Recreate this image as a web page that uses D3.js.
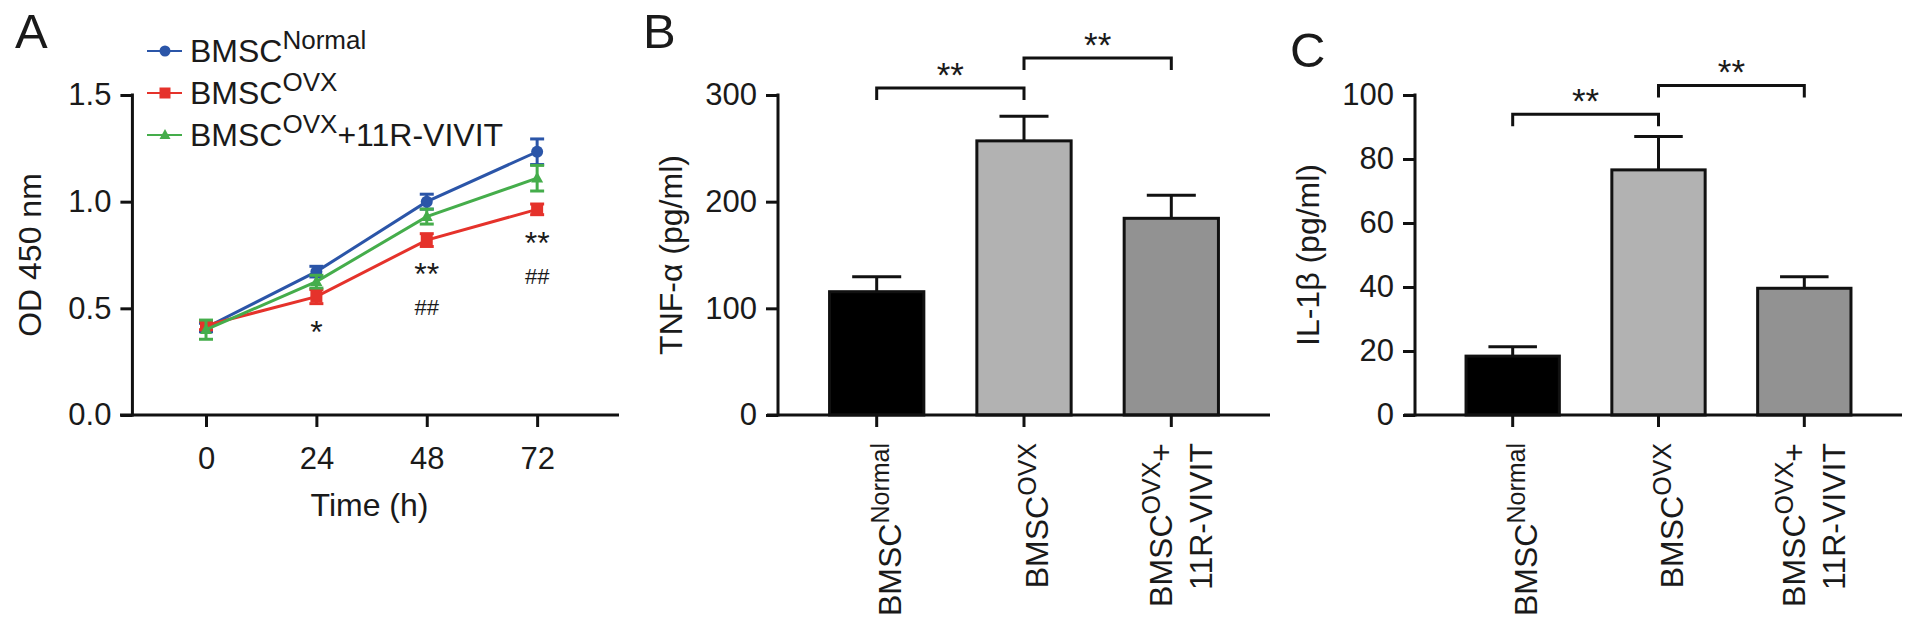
<!DOCTYPE html>
<html>
<head>
<meta charset="utf-8">
<script src="https://cdn.jsdelivr.net/npm/d3@7"></script>
<style>
  html, body { margin: 0; padding: 0; background: #fff; }
  svg { display: block; }
  text { font-family: "Liberation Sans", Arial, Helvetica, sans-serif; fill: #1a1a1a; }
</style>
</head>
<body>
<svg id="fig" width="1913" height="631"></svg>
<script>
// ---------------- DATA ----------------
// Panel A: OD 450 nm over time
const timePoints = [0, 24, 48, 72];
const timeTicks = [0, 24, 48, 72];
const odTicks = [0, 0.5, 1.0, 1.5];
const odNormal = [0.41, 0.672, 1.00, 1.234];
const odNormalErr = [0.02, 0.025, 0.035, 0.06];
const odOVX = [0.42, 0.555, 0.82, 0.964];
const odOVXErr = [0.02, 0.033, 0.03, 0.025];
const odVIVIT = [0.40, 0.625, 0.93, 1.11];
const odVIVITErr = [0.045, 0.03, 0.035, 0.06];
const starMarks = ["", "*", "**", "**"];      // vs Normal
const hashMarks = ["", "", "##", "##"];       // vs OVX+VIVIT

// Panels B, C
const groups = ["Normal", "OVX", "VIVIT"];
const tnfTicks = [0, 100, 200, 300];
const tnfValues = [115.6, 257, 184.4];
const tnfErr = [14, 23, 21.6];
const tnfBrackets = [[0, 1, 306.5, "**"], [1, 2, 334.7, "**"]];
const il1bTicks = [0, 20, 40, 60, 80, 100];
const il1bValues = [18.4, 76.6, 39.6];
const il1bErr = [2.9, 10.4, 3.6];
const il1bBrackets = [[0, 1, 94, "**"], [1, 2, 103, "**"]];

// ---------------- STYLE ----------------
const FONT = 32, TICKFONT = 31, SUP = 25;
const colBlue = "#2b55a8", colRed = "#e5322b", colGreen = "#45ad4b";
const barFills = ["#000000", "#b2b2b2", "#929292"];
const AX = 3;

const svg = d3.select("#fig");

function richText(sel, parts, supSize, shift) {
  let raised = false;
  parts.forEach(p => {
    const ts = sel.append("tspan").text(p.t);
    if (p.sup) {
      ts.attr("font-size", supSize).attr("dy", -shift);
      raised = true;
    } else if (raised) {
      ts.attr("dy", shift);
      raised = false;
    }
  });
}

function styleAxis(g) {
  g.selectAll("path.domain").remove();
  g.selectAll(".tick line").attr("stroke", "#111").attr("stroke-width", AX);
  g.selectAll(".tick text").attr("font-size", TICKFONT).attr("fill", "#1a1a1a")
    .style("font-family", '"Liberation Sans", Arial, Helvetica, sans-serif');
}

// ---------------- PANEL A ----------------
const xA = d3.scaleLinear().domain([-18.7, 89.8]).range([120, 619]);
const yA = d3.scaleLinear().domain([0, 1.5]).range([415, 95]);
const yAxisAX = xA(-16);  // y axis crosses the x axis slightly right of its start

const gA = svg.append("g");
gA.append("text").attr("x", 15).attr("y", 48).attr("font-size", 49).text("A");

// y axis
const gAy = gA.append("g").attr("transform", `translate(${yAxisAX},0)`)
  .call(d3.axisLeft(yA).tickValues(odTicks).tickFormat(d3.format(".1f")).tickSize(12).tickSizeOuter(0).tickPadding(9));
styleAxis(gAy);
gA.append("line").attr("x1", yAxisAX).attr("x2", yAxisAX).attr("y1", yA(0) + 1.5).attr("y2", yA(1.5) - 1.5)
  .attr("stroke", "#111").attr("stroke-width", AX);
// x axis
const gAx = gA.append("g").attr("transform", `translate(0,${yA(0)})`)
  .call(d3.axisBottom(xA).tickValues(timeTicks).tickSize(12).tickSizeOuter(0).tickPadding(20));
styleAxis(gAx);
gA.append("line").attr("x1", xA.range()[0]).attr("x2", xA.range()[1]).attr("y1", yA(0)).attr("y2", yA(0))
  .attr("stroke", "#111").attr("stroke-width", AX);

gA.append("text").attr("x", (xA.range()[0] + xA.range()[1]) / 2).attr("y", 516)
  .attr("text-anchor", "middle").attr("font-size", FONT).text("Time (h)");
gA.append("text").attr("transform", `translate(41,${(yA(0) + yA(1.5)) / 2}) rotate(-90)`)
  .attr("text-anchor", "middle").attr("font-size", FONT).text("OD 450 nm");

const seriesA = [
  { name: [{ t: "BMSC" }, { t: "Normal", sup: true }], vals: odNormal, err: odNormalErr, color: colBlue, shape: "circle" },
  { name: [{ t: "BMSC" }, { t: "OVX", sup: true }], vals: odOVX, err: odOVXErr, color: colRed, shape: "square" },
  { name: [{ t: "BMSC" }, { t: "OVX", sup: true }, { t: "+11R-VIVIT" }], vals: odVIVIT, err: odVIVITErr, color: colGreen, shape: "triangle" }
];

function marker(g, shape, cx, cy, color, s) {
  if (shape === "circle") {
    g.append("circle").attr("cx", cx).attr("cy", cy).attr("r", s * 0.5).attr("fill", color);
  } else if (shape === "square") {
    g.append("rect").attr("x", cx - s / 2).attr("y", cy - s / 2).attr("width", s).attr("height", s).attr("fill", color);
  } else {
    const h = s * 0.9;
    g.append("path").attr("d", `M${cx},${cy - h * 0.6}L${cx + s / 2},${cy + h * 0.4}L${cx - s / 2},${cy + h * 0.4}Z`).attr("fill", color);
  }
}

const line = d3.line().x((d, i) => xA(timePoints[i])).y(d => yA(d));
seriesA.forEach(s => {
  const g = gA.append("g");
  g.append("path").datum(s.vals).attr("d", line).attr("fill", "none")
    .attr("stroke", s.color).attr("stroke-width", 3);
  s.vals.forEach((v, i) => {
    const cx = xA(timePoints[i]);
    const y1 = yA(v - s.err[i]), y2 = yA(v + s.err[i]);
    g.append("line").attr("x1", cx).attr("x2", cx).attr("y1", y1).attr("y2", y2).attr("stroke", s.color).attr("stroke-width", 3);
    [y1, y2].forEach(yy => g.append("line").attr("x1", cx - 7).attr("x2", cx + 7).attr("y1", yy).attr("y2", yy)
      .attr("stroke", s.color).attr("stroke-width", 3));
    marker(g, s.shape, cx, yA(v), s.color, 12);
  });
});

// significance marks under the OVX series
odOVX.forEach((v, i) => {
  const cx = xA(timePoints[i]);
  const base = yA(v - odOVXErr[i]);
  if (starMarks[i]) gA.append("text").attr("x", cx).attr("y", base + 39).attr("text-anchor", "middle")
    .attr("font-size", 32).text(starMarks[i]);
  if (hashMarks[i]) gA.append("text").attr("x", cx).attr("y", base + 69).attr("text-anchor", "middle")
    .attr("font-size", 22).text(hashMarks[i]);
});

// legend
seriesA.forEach((s, i) => {
  const ly = 51 + i * 42;
  gA.append("line").attr("x1", 147).attr("x2", 182).attr("y1", ly).attr("y2", ly).attr("stroke", s.color).attr("stroke-width", 2);
  marker(gA, s.shape, 165, ly, s.color, 11);
  const t = gA.append("text").attr("x", 190).attr("y", ly + 11).attr("font-size", FONT);
  richText(t, s.name, 26, 13);
});

// ---------------- BAR PANELS ----------------
const xLabels = [
  [[{ t: "BMSC" }, { t: "Normal", sup: true }]],
  [[{ t: "BMSC" }, { t: "OVX", sup: true }]],
  [[{ t: "BMSC" }, { t: "OVX", sup: true }, { t: "+" }], [{ t: "11R-VIVIT" }]]
];

function barPanel(opt) {
  const g = svg.append("g");
  const x = d3.scaleBand().domain(groups).range(opt.xRange).paddingInner(0.36).paddingOuter(0.35);
  const y = d3.scaleLinear().domain(opt.yDomain).range([415, 95]);
  const x0 = opt.xRange[0];

  g.append("text").attr("x", opt.letterX).attr("y", opt.letterY).attr("font-size", 49).text(opt.letter);

  // bars
  opt.values.forEach((v, i) => {
    const bx = x(groups[i]), bw = x.bandwidth();
    g.append("rect").attr("x", bx).attr("y", y(v)).attr("width", bw).attr("height", y(0) - y(v))
      .attr("fill", barFills[i]).attr("stroke", "#111").attr("stroke-width", 3);
    const cx = bx + bw / 2;
    const ye = y(v + opt.err[i]);
    g.append("line").attr("x1", cx).attr("x2", cx).attr("y1", y(v)).attr("y2", ye).attr("stroke", "#111").attr("stroke-width", 3);
    g.append("line").attr("x1", cx - bw * 0.26).attr("x2", cx + bw * 0.26).attr("y1", ye).attr("y2", ye)
      .attr("stroke", "#111").attr("stroke-width", 3);
  });

  // y axis
  const gy = g.append("g").attr("transform", `translate(${x0},0)`)
    .call(d3.axisLeft(y).tickValues(opt.ticks).tickSize(12).tickSizeOuter(0).tickPadding(9));
  styleAxis(gy);
  g.append("line").attr("x1", x0).attr("x2", x0).attr("y1", y(0) + 1.5).attr("y2", y(opt.yDomain[1]) - 1.5)
    .attr("stroke", "#111").attr("stroke-width", AX);
  // x axis
  const gx = g.append("g").attr("transform", `translate(0,${y(0)})`)
    .call(d3.axisBottom(x).tickSize(12).tickSizeOuter(0).tickFormat(""));
  styleAxis(gx);
  g.append("line").attr("x1", x0 - 11).attr("x2", opt.xRange[1]).attr("y1", y(0)).attr("y2", y(0))
    .attr("stroke", "#111").attr("stroke-width", AX);

  // x labels (rotated)
  xLabels.forEach((lines, i) => {
    const cx = x(groups[i]) + x.bandwidth() / 2;
    const offsets = lines.length === 1 ? [24] : [1, 41];
    lines.forEach((parts, j) => {
      const t = g.append("text").attr("transform", `translate(${cx + offsets[j]},443) rotate(-90)`)
        .attr("text-anchor", "end").attr("font-size", FONT);
      richText(t, parts, SUP, 12);
    });
  });

  // y label
  g.append("text").attr("transform", `translate(${x0 - 96},${(y(0) + y(opt.yDomain[1])) / 2}) rotate(-90)`)
    .attr("text-anchor", "middle").attr("font-size", FONT).text(opt.yLabel);

  // significance brackets
  opt.brackets.forEach(b => {
    const xa = x(groups[b[0]]) + x.bandwidth() / 2, xb = x(groups[b[1]]) + x.bandwidth() / 2;
    const yy = y(b[2]);
    g.append("path").attr("d", `M${xa},${yy + 12}V${yy}H${xb}V${yy + 12}`)
      .attr("fill", "none").attr("stroke", "#111").attr("stroke-width", 3);
    g.append("text").attr("x", (xa + xb) / 2).attr("y", yy - 21 + 20).attr("text-anchor", "middle")
      .attr("font-size", 35).text(b[3]);
  });
}

barPanel({ letter: "B", letterX: 643, letterY: 48, xRange: [778, 1270], yDomain: [0, 300], ticks: tnfTicks,
  values: tnfValues, err: tnfErr, brackets: tnfBrackets, yLabel: "TNF-α (pg/ml)" });
barPanel({ letter: "C", letterX: 1290, letterY: 67, xRange: [1415, 1902], yDomain: [0, 100], ticks: il1bTicks,
  values: il1bValues, err: il1bErr, brackets: il1bBrackets, yLabel: "IL-1β (pg/ml)" });
</script>
</body>
</html>
